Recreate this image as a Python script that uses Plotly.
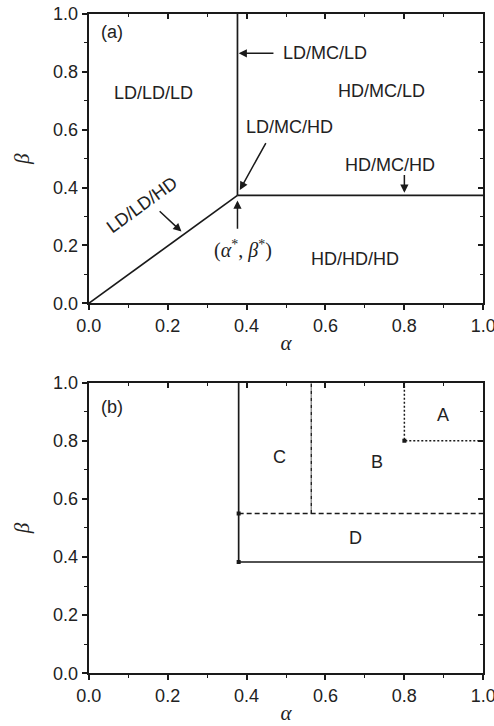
import plotly.graph_objects as go

# critical point
alpha_star = 0.377
beta_star = 0.373

# panel (a) phase boundaries
diag_x = [0.0, alpha_star]
diag_y = [0.0, beta_star]
vert_x = [alpha_star, alpha_star]
vert_y = [beta_star, 1.0]
horiz_x = [alpha_star, 1.0]
horiz_y = [beta_star, beta_star]

# panel (b) region boundaries
b_solid_x = [1.0, 0.38, 0.38]
b_solid_y = [0.383, 0.383, 1.0]
b_dash_x = [0.38, 1.0]
b_dash_y = [0.55, 0.55]
b_dashdot_x = [0.564, 0.564]
b_dashdot_y = [0.55, 1.0]
b_dot_x = [1.0, 0.8, 0.8]
b_dot_y = [0.8, 0.8, 1.0]
b_corner_x = [0.38, 0.38, 0.8]
b_corner_y = [0.383, 0.55, 0.8]

# labels
a_labels = ["LD/LD/LD", "HD/MC/LD", "LD/MC/LD", "LD/MC/HD", "HD/MC/HD", "HD/HD/HD"]
a_label_x = [0.164, 0.742, 0.599, 0.508, 0.764, 0.675]
a_label_y = [0.726, 0.735, 0.864, 0.611, 0.478, 0.152]
b_labels = ["A", "B", "C", "D"]
b_label_x = [0.899, 0.730, 0.483, 0.675]
b_label_y = [0.889, 0.728, 0.745, 0.465]

ticks = [0.0, 0.2, 0.4, 0.6, 0.8, 1.0]
tick_text = ["0.0", "0.2", "0.4", "0.6", "0.8", "1.0"]

FONT = "Liberation Sans"
SERIF = "Liberation Serif"
BLACK = "#1a1a1a"
TXT = "#222"

fig = go.Figure()
line = dict(color=BLACK, width=1.7)

for xs, ys in [(diag_x, diag_y), (vert_x, vert_y), (horiz_x, horiz_y)]:
    fig.add_trace(go.Scatter(x=xs, y=ys, mode="lines", line=line,
                             xaxis="x", yaxis="y", showlegend=False, hoverinfo="skip"))

fig.add_trace(go.Scatter(x=b_solid_x, y=b_solid_y, mode="lines", line=line,
                         xaxis="x2", yaxis="y2", showlegend=False))
fig.add_trace(go.Scatter(x=b_dash_x, y=b_dash_y, mode="lines",
                         line=dict(color=BLACK, width=1.5, dash="5px,3px"),
                         xaxis="x2", yaxis="y2", showlegend=False))
fig.add_trace(go.Scatter(x=b_dashdot_x, y=b_dashdot_y, mode="lines",
                         line=dict(color=BLACK, width=1.4, dash="4px,1px,1px,1px"),
                         xaxis="x2", yaxis="y2", showlegend=False))
fig.add_trace(go.Scatter(x=b_dot_x, y=b_dot_y, mode="lines",
                         line=dict(color=BLACK, width=1.5, dash="2px,2px"),
                         xaxis="x2", yaxis="y2", showlegend=False))
fig.add_trace(go.Scatter(x=b_corner_x, y=b_corner_y, mode="markers",
                         marker=dict(symbol="square", size=4, color=BLACK),
                         xaxis="x2", yaxis="y2", showlegend=False))

# empty traces so the mirrored (top/right) frame axes get drawn
fig.add_trace(go.Scatter(x=[None], y=[None], mode="lines", xaxis="x3", yaxis="y3",
                         showlegend=False, hoverinfo="skip"))
fig.add_trace(go.Scatter(x=[None], y=[None], mode="lines", xaxis="x4", yaxis="y4",
                         showlegend=False, hoverinfo="skip"))

XDOM = [0.1796, 0.9783]
YDOM_A = [0.5822, 0.9807]
YDOM_B = [0.0726, 0.4729]

def main_axis(domain, anchor, title, side, standoff):
    return dict(domain=domain, anchor=anchor, range=[0, 1], tickvals=ticks, ticktext=tick_text,
                ticks="outside", ticklen=5, tickwidth=1.5, tickcolor=BLACK,
                minor=dict(dtick=0.1, tick0=0, ticks="outside", ticklen=3, tickwidth=1.3, tickcolor=BLACK),
                showline=True, linecolor=BLACK, linewidth=2, showgrid=False, zeroline=False,
                tickfont=dict(family=FONT, size=18, color=TXT), ticklabeloverflow="allow",
                title=dict(text=title, font=dict(family=SERIF, size=21, color=TXT), standoff=standoff),
                fixedrange=True, automargin=False, side=side)

def mirror_axis(overlay, anchor, side):
    return dict(overlaying=overlay, anchor=anchor, side=side, range=[0, 1], tickvals=ticks,
                ticks="inside", ticklen=5, tickwidth=1.5, tickcolor=BLACK,
                minor=dict(dtick=0.1, tick0=0, ticks="inside", ticklen=3, tickwidth=1.3, tickcolor=BLACK),
                showticklabels=False, showline=True, linecolor=BLACK, linewidth=2,
                showgrid=False, zeroline=False, fixedrange=True, automargin=False)

fig.update_layout(
    width=494, height=726, template="none",
    margin=dict(l=0, r=0, t=0, b=0),
    plot_bgcolor="white", paper_bgcolor="white",
    xaxis=main_axis(XDOM, "y", "<i>α</i>", "bottom", 0),
    yaxis=main_axis(YDOM_A, "x", "<i>β</i>", "left", 18),
    xaxis2=main_axis(XDOM, "y2", "<i>α</i>", "bottom", 0),
    yaxis2=main_axis(YDOM_B, "x2", "<i>β</i>", "left", 18),
    xaxis3=mirror_axis("x", "y3", "top"),
    yaxis3=mirror_axis("y", "x3", "right"),
    xaxis4=mirror_axis("x2", "y4", "top"),
    yaxis4=mirror_axis("y2", "x4", "right"),
    showlegend=False,
)

ann = []
tf = dict(family=FONT, size=18, color=TXT)
for t, x, y in zip(a_labels, a_label_x, a_label_y):
    ann.append(dict(text=t, x=x, y=y, xref="x", yref="y", showarrow=False, font=tf))
ann.append(dict(text="LD/LD/HD", x=0.134, y=0.340, xref="x", yref="y", showarrow=False,
                font=tf, textangle=-36))
ann.append(dict(text="(<i>α</i><sup>*</sup>, <i>β</i><span style='color:#222'><sup>*</sup></span>)",
                x=0.392, y=0.187, xref="x", yref="y", showarrow=False,
                font=dict(family=SERIF, size=20, color=TXT)))
ann.append(dict(text="(a)", x=0.058, y=0.939, xref="x", yref="y", showarrow=False, font=tf))

arrows = [
    # (tail_x, tail_y, head_x, head_y)
    (0.472, 0.864, 0.380, 0.864),
    (0.451, 0.559, 0.383, 0.392),
    (0.800, 0.449, 0.800, 0.382),
    (0.176, 0.323, 0.235, 0.248),
    (0.377, 0.253, 0.377, 0.355),
]
for tx, ty, hx, hy in arrows:
    ann.append(dict(x=hx, y=hy, ax=tx, ay=ty, xref="x", yref="y", axref="x", ayref="y",
                    text="", showarrow=True, arrowhead=2, arrowsize=1.1, arrowwidth=1.5,
                    arrowcolor=BLACK))

for t, x, y in zip(b_labels, b_label_x, b_label_y):
    ann.append(dict(text=t, x=x, y=y, xref="x2", yref="y2", showarrow=False, font=tf))
ann.append(dict(text="(b)", x=0.058, y=0.917, xref="x2", yref="y2", showarrow=False, font=tf))

fig.update_layout(annotations=ann)
fig.write_html("out.html", config={"displayModeBar": False},
               post_script="document.body.style.margin='0';document.body.style.overflow='hidden';")
